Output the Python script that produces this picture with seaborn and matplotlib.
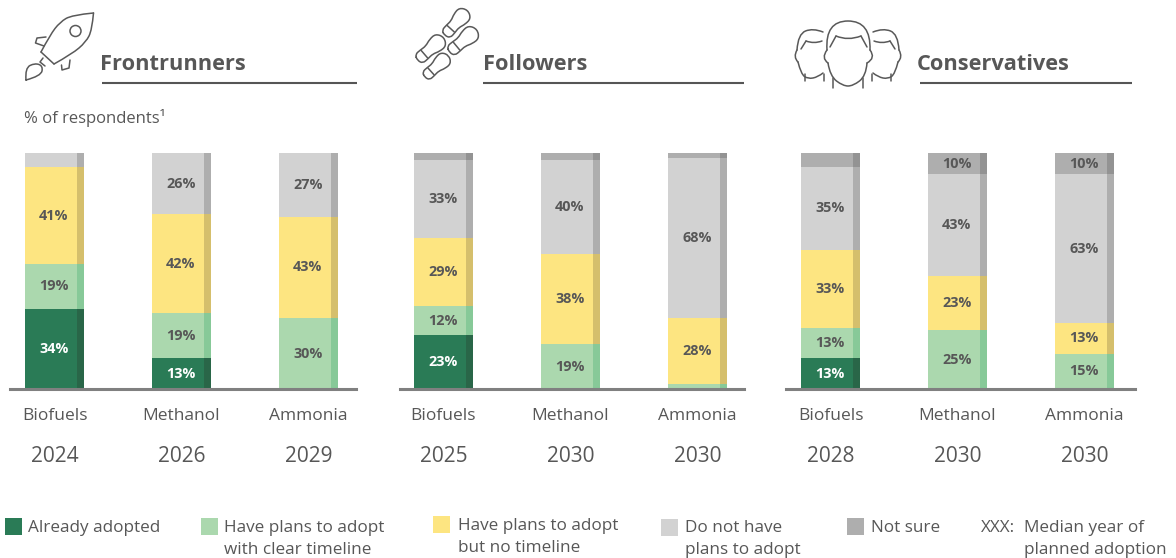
import matplotlib
matplotlib.use("Agg")
import matplotlib.pyplot as plt
from matplotlib.path import Path
from matplotlib.patches import PathPatch, Rectangle, Circle
import numpy as np
import pandas as pd
import seaborn as sns

# Survey shares, in percent, by fuel and segment
fuels = ["Biofuels", "Methanol", "Ammonia"]

front_adopted = [34, 13, 0]
front_clear = [19, 19, 30]
front_no_timeline = [41, 42, 43]
front_no_plans = [6, 26, 27]
front_unsure = [0, 0, 0]
front_years = [2024, 2026, 2029]

follow_adopted = [23, 0, 0]
follow_clear = [12, 19, 2]
follow_no_timeline = [29, 38, 28]
follow_no_plans = [33, 40, 68]
follow_unsure = [3, 3, 2]
follow_years = [2025, 2030, 2030]

cons_adopted = [13, 0, 0]
cons_clear = [13, 25, 15]
cons_no_timeline = [33, 23, 13]
cons_no_plans = [35, 43, 63]
cons_unsure = [6, 10, 10]
cons_years = [2028, 2030, 2030]

segments = [
    ("Frontrunners", [front_adopted, front_clear, front_no_timeline, front_no_plans, front_unsure], front_years),
    ("Followers", [follow_adopted, follow_clear, follow_no_timeline, follow_no_plans, follow_unsure], follow_years),
    ("Conservatives", [cons_adopted, cons_clear, cons_no_timeline, cons_no_plans, cons_unsure], cons_years),
]

colors = ["#2A7B56", "#ABD8AE", "#FDE581", "#D2D2D2", "#AEAEAE"]
side_colors = ["#296648", "#87C998", "#D5BF6C", "#AEAEAE", "#939393"]
TEXT = "#575757"

sns.set_theme(style="white")
plt.rcParams["font.family"] = ["Open Sans", "DejaVu Sans"]

W, H = 1176, 558
fig = plt.figure(figsize=(W / 100, H / 100), dpi=100, facecolor="white")

BASE, TOP = 389, 153
SPACING, BAR = 127, 59
# left end of baseline, right end of baseline, centre of first bar
frames = [(10, 356, 54.5), (400, 744, 443.5), (786, 1135, 830.5)]

for (name, layers, years), (x0, x1, c0) in zip(segments, frames):
    ax = fig.add_axes([x0 / W, (H - BASE) / H, (x1 - x0) / W, (BASE - TOP) / H])
    ax.patch.set_alpha(0)
    bottom = np.zeros(3)
    for values, color, side in zip(layers, colors, side_colors):
        frame = pd.DataFrame({"fuel": fuels, "share": values})
        sns.barplot(data=frame, x="fuel", y="share", bottom=bottom, color=color, saturation=1,
                    width=BAR / SPACING, ax=ax, linewidth=0, order=fuels)
        for bar, value in zip(ax.containers[-1], values):
            w = bar.get_width()
            ax.add_patch(Rectangle((bar.get_x() + w * 52 / 59, bar.get_y()), w * 7 / 59, bar.get_height(),
                                   facecolor=side, linewidth=0, zorder=bar.get_zorder() + 0.1))
            if value >= 10:
                top = min(bar.get_y() + bar.get_height(), 100)
                ax.text(bar.get_x() + w * 0.49, (bar.get_y() + top) / 2, f"{value}%",
                        ha="center", va="center", fontsize=10.4, fontweight="bold",
                        color="white" if color == colors[0] else TEXT, zorder=5)
        bottom = bottom + np.array(values)
    ax.set_ylim(0, 100)
    ax.set_xlim((x0 - c0) / SPACING, (x1 - c0) / SPACING)
    ax.set_xlabel("")
    ax.set_ylabel("")
    ax.set_yticks([])
    ax.tick_params(axis="x", length=0, pad=14, labelsize=12.5, labelcolor=TEXT)
    for spine in ("top", "left", "right"):
        ax.spines[spine].set_visible(False)
    ax.spines["bottom"].set_color("#808080")
    ax.spines["bottom"].set_linewidth(2.2)
    ax.spines["bottom"].set_zorder(6)
    for i, year in enumerate(years):
        ax.annotate(str(year), xy=(i, 0), xycoords=ax.get_xaxis_transform(),
                    xytext=(0, -68 * 0.72), textcoords="offset points",
                    ha="center", va="center", fontsize=15, color=TEXT)

# Overlay in pixel units for headings, icons and the key
ov = fig.add_axes([0, 0, 1, 1])
ov.set_xlim(0, W)
ov.set_ylim(H, 0)
ov.axis("off")
ov.patch.set_alpha(0)

for label, tx, lx0, lx1 in [("Frontrunners", 100, 102, 357), ("Followers", 483, 483, 744),
                            ("Conservatives", 917, 920, 1132)]:
    ov.text(tx, 64, label, fontsize=15.7, fontweight="bold", color=TEXT, ha="left", va="center")
    ov.plot([lx0, lx1], [83, 83], color="#555555", lw=1.5, solid_capstyle="butt")

ov.text(24, 118, "% of respondents¹", fontsize=12, color=TEXT, ha="left", va="center")


def smooth(points, closed=False):
    """Rounded outline through the midpoints of a control polygon."""
    pts = np.asarray(points, float)
    if closed:
        start = (pts[-1] + pts[0]) / 2
        verts, codes = [start], [Path.MOVETO]
        for i, p in enumerate(pts):
            nxt = pts[(i + 1) % len(pts)]
            verts += [p, (p + nxt) / 2]
            codes += [Path.CURVE3, Path.CURVE3]
    else:
        verts, codes = [pts[0]], [Path.MOVETO]
        for i in range(1, len(pts) - 1):
            end = (pts[i] + pts[i + 1]) / 2 if i < len(pts) - 2 else pts[i + 1]
            verts += [pts[i], end]
            codes += [Path.CURVE3, Path.CURVE3]
    return Path(np.array(verts), codes)


ICON = dict(facecolor="none", edgecolor="#595959", linewidth=1.1, capstyle="round", joinstyle="round")


def outline(points, closed=False):
    ov.add_patch(PathPatch(smooth(points, closed), **ICON))


def polyline(points):
    xs, ys = zip(*points)
    ov.plot(xs, ys, color="#595959", lw=1.1, solid_capstyle="round", solid_joinstyle="round")


# Rocket
polyline([(41, 52), (54, 64)])
outline([(41, 52), (50, 35), (60, 22), (72, 15), (93.5, 13)])
outline([(54, 64), (72, 54), (86, 42), (92, 30), (93.5, 13)])
ov.add_patch(Circle((75.5, 31), 5.5, **ICON))
polyline([(46, 37), (37, 38), (35.5, 43), (44, 46)])
polyline([(70, 60), (69, 68), (62, 70), (61.5, 65)])
polyline([(43, 58), (40, 62), (45, 66)])
outline([(26, 80), (25, 68), (35, 63), (43, 66), (41, 76), (26, 80)])


# Shoe prints
def shoe(heel, toe):
    heel, toe = np.array(heel, float), np.array(toe, float)
    axis = toe - heel
    length = np.linalg.norm(axis)
    u = axis / length
    n = np.array([-u[1], u[0]])
    local = [(-0.12, 0.0), (-0.05, 0.2), (0.2, 0.2), (0.42, 0.18), (0.66, 0.27), (0.95, 0.28), (1.1, 0.0),
             (0.95, -0.28), (0.66, -0.27), (0.42, -0.18), (0.2, -0.2), (-0.05, -0.2)]
    outline([heel + u * a * length + n * b * length for a, b in local], closed=True)
    polyline([heel + u * 0.2 * length + n * 0.17 * length, heel + u * 0.2 * length - n * 0.17 * length])


shoe((447, 33), (466, 12))
shoe((452, 50), (475, 31))
shoe((420, 58), (442, 39))
shoe((427, 75), (447, 57))


# Faces
def head(cx, mirror=1):
    def m(points):
        return [(cx + mirror * (x - 810), y) for x, y in points]
    outline(m([(823, 32), (813, 28), (798, 34), (797, 50)]))
    outline(m([(797, 50), (793, 57), (798, 62)]))
    outline(m([(798, 62), (801, 74), (808, 79), (818, 77), (823, 73)]))
    polyline(m([(801, 49), (806, 41)]))
    outline(m([(806, 41), (814, 44), (822, 41)]))
    polyline(m([(805, 74), (805, 81)]))
    polyline(m([(824, 74), (824, 81)]))


head(810)
head(886, -1)
outline([(827, 50), (825, 21), (871, 21), (870, 50)])
outline([(827, 50), (821, 58), (828, 63)])
outline([(870, 50), (876, 58), (867, 63)])
outline([(828, 63), (830, 76), (843, 86), (853, 86), (866, 76), (867, 63)])
polyline([(830, 47), (836, 36)])
outline([(836, 36), (848, 41), (861, 36)])
polyline([(861, 36), (867, 47)])
polyline([(833, 78), (833, 88)])
polyline([(863, 78), (863, 88)])

# Key
key_entries = [
    (5, 518, colors[0], 28, ["Already adopted"], 528),
    (201, 518, colors[1], 224, ["Have plans to adopt", "with clear timeline"], 528),
    (433, 516, colors[2], 458, ["Have plans to adopt", "but no timeline"], 526),
    (661, 519, colors[3], 685, ["Do not have", "plans to adopt"], 528),
    (847, 518, colors[4], 871, ["Not sure"], 528),
]
for sx, sy, color, tx, lines, ty in key_entries:
    ov.add_patch(Rectangle((sx, sy), 17, 17, facecolor=color, linewidth=0))
    for k, line in enumerate(lines):
        ov.text(tx, ty + 21.5 * k, line, fontsize=12.3, color=TEXT, ha="left", va="center")
ov.text(981, 528, "XXX:", fontsize=12.3, color=TEXT, ha="left", va="center")
ov.text(1024, 528, "Median year of", fontsize=12.3, color=TEXT, ha="left", va="center")
ov.text(1024, 549.5, "planned adoption", fontsize=12.3, color=TEXT, ha="left", va="center")

fig.savefig("out.png", dpi=100)
